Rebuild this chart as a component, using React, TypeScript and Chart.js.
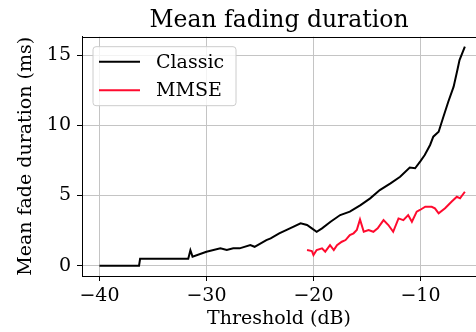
import React, { useEffect, useRef } from "react";
import { Chart, registerables } from "chart.js";

Chart.register(...registerables);

const titleText = "Mean fading duration";
const xLabel = "Threshold (dB)";
const yLabel = "Mean fade duration (ms)";
const seriesLabels = ["Classic", "MMSE"];
const seriesColors = ["#000000", "#ff0a2e"];

const xTickValues = [-40, -30, -20, -10];
const yTickValues = [0, 5, 10, 15];

const classicX = [-40, -36.3, -36.2, -31.7, -31.5, -31.3, -30.0, -28.7, -28.1, -27.5, -26.9, -25.9, -25.5, -24.4, -24.0, -23.2, -22.2, -21.2, -20.6, -20.15, -19.7, -19.2, -18.4, -17.5, -16.6, -15.6, -14.7, -13.8, -12.8, -11.9, -11.0, -10.5, -10.0, -9.6, -9.1, -8.8, -8.3, -7.9, -7.4, -6.9, -6.55, -6.35, -5.85];
const classicY = [0, 0, 0.5, 0.5, 1.1, 0.65, 1.0, 1.24, 1.12, 1.24, 1.24, 1.47, 1.35, 1.83, 1.95, 2.3, 2.66, 3.02, 2.9, 2.66, 2.42, 2.66, 3.13, 3.61, 3.85, 4.32, 4.8, 5.39, 5.87, 6.34, 7.0, 6.94, 7.45, 7.88, 8.6, 9.19, 9.54, 10.5, 11.68, 12.75, 13.94, 14.65, 15.6];

const mmseX = [-20.6, -20.15, -20.0, -19.7, -19.2, -18.9, -18.45, -18.1, -17.8, -17.35, -17.0, -16.6, -16.25, -15.95, -15.65, -15.3, -14.85, -14.4, -14.0, -13.45, -13.0, -12.55, -12.05, -11.6, -11.15, -10.8, -10.35, -10.05, -9.55, -8.95, -8.65, -8.3, -7.7, -7.1, -6.6, -6.3, -5.85];
const mmseY = [1.12, 1.05, 0.76, 1.12, 1.24, 1.0, 1.47, 1.12, 1.47, 1.71, 1.83, 2.19, 2.31, 2.54, 3.3, 2.42, 2.54, 2.42, 2.66, 3.25, 2.9, 2.42, 3.37, 3.25, 3.61, 3.13, 3.85, 3.97, 4.2, 4.2, 4.09, 3.73, 4.09, 4.56, 4.91, 4.8, 5.27];

const FONT = "'DejaVu Serif', serif";

const toPoints = (xs: number[], ys: number[]) => xs.map((x, i) => ({ x, y: ys[i] }));
const fmt = (v: number) => (v < 0 ? "\u2212" + Math.abs(v) : String(v));

const framePlugin = {
  id: "frameAndLegend",
  afterDraw(chart: any) {
    const { ctx, chartArea } = chart;
    ctx.save();
    // top spine
    ctx.strokeStyle = "#000";
    ctx.lineWidth = 1;
    ctx.beginPath();
    ctx.moveTo(chartArea.left, Math.round(chartArea.top) + 0.5);
    ctx.lineTo(chartArea.right, Math.round(chartArea.top) + 0.5);
    ctx.stroke();

    // legend
    const bx = chartArea.left + 11;
    const by = chartArea.top + 10;
    const bw = 143;
    const bh = 59;
    const r = 3;
    ctx.beginPath();
    ctx.moveTo(bx + r, by);
    ctx.lineTo(bx + bw - r, by);
    ctx.quadraticCurveTo(bx + bw, by, bx + bw, by + r);
    ctx.lineTo(bx + bw, by + bh - r);
    ctx.quadraticCurveTo(bx + bw, by + bh, bx + bw - r, by + bh);
    ctx.lineTo(bx + r, by + bh);
    ctx.quadraticCurveTo(bx, by + bh, bx, by + bh - r);
    ctx.lineTo(bx, by + r);
    ctx.quadraticCurveTo(bx, by, bx + r, by);
    ctx.closePath();
    ctx.fillStyle = "rgba(255,255,255,0.8)";
    ctx.fill();
    ctx.strokeStyle = "#cccccc";
    ctx.stroke();

    ctx.font = `19px ${FONT}`;
    ctx.textBaseline = "middle";
    ctx.textAlign = "left";
    chart.data.datasets.forEach((ds: any, i: number) => {
      const y = by + 15 + i * 28.5;
      ctx.strokeStyle = ds.borderColor;
      ctx.lineWidth = 2;
      ctx.beginPath();
      ctx.moveTo(bx + 6, y);
      ctx.lineTo(bx + 47, y);
      ctx.stroke();
      ctx.fillStyle = "#000";
      ctx.fillText(ds.label, bx + 63, y + 1);
    });
    ctx.restore();
  },
};

export default function App() {
  const ref = useRef<HTMLCanvasElement>(null);

  useEffect(() => {
    if (!ref.current) return;
    const chart = new Chart(ref.current, {
      type: "line",
      data: {
        datasets: [
          {
            label: seriesLabels[0],
            data: toPoints(classicX, classicY),
            borderColor: seriesColors[0],
            borderWidth: 2,
            pointRadius: 0,
            tension: 0,
          },
          {
            label: seriesLabels[1],
            data: toPoints(mmseX, mmseY),
            borderColor: seriesColors[1],
            borderWidth: 2,
            pointRadius: 0,
            tension: 0,
          },
        ],
      },
      options: {
        animation: false,
        responsive: false,
        devicePixelRatio: 1,
        layout: { padding: 0 },
        plugins: {
          legend: { display: false },
          tooltip: { enabled: false },
          title: {
            display: true,
            text: titleText,
            fullSize: false,
            color: "#000",
            font: { family: FONT, size: 23.5, weight: "normal" },
            padding: { top: 6.9, bottom: 1.6 },
          },
        },
        scales: {
          x: {
            type: "linear",
            min: -41.63,
            max: -4.81,
            afterFit: (s: any) => {
              s.height = 56;
            },
            afterBuildTicks: (s: any) => {
              s.ticks = xTickValues.map((v) => ({ value: v }));
            },
            ticks: {
              color: "#000",
              font: { family: FONT, size: 19 },
              padding: 4,
              maxRotation: 0,
              autoSkip: false,
              callback: (v: any) => fmt(Number(v)),
            },
            grid: {
              color: "#c4c4c4",
              lineWidth: 1,
              tickColor: "#000",
              tickLength: 5,
              drawTicks: true,
            },
            border: { display: true, color: "#000", width: 1 },
            title: {
              display: true,
              text: xLabel,
              color: "#000",
              font: { family: FONT, size: 19 },
              padding: { top: 0, bottom: 2 },
            },
          },
          y: {
            type: "linear",
            min: -0.73,
            max: 16.31,
            afterFit: (s: any) => {
              s.width = 82;
            },
            afterBuildTicks: (s: any) => {
              s.ticks = yTickValues.map((v) => ({ value: v }));
            },
            ticks: {
              color: "#000",
              font: { family: FONT, size: 19 },
              padding: 6,
              autoSkip: false,
              callback: (v: any) => fmt(Number(v)),
            },
            grid: {
              color: "#c4c4c4",
              lineWidth: 1,
              tickColor: "#000",
              tickLength: 5,
              drawTicks: true,
            },
            border: { display: true, color: "#000", width: 1 },
            title: {
              display: true,
              text: yLabel,
              color: "#000",
              font: { family: FONT, size: 19 },
              padding: { top: 15, bottom: 0 },
            },
          },
        },
      },
      plugins: [framePlugin],
    });
    return () => chart.destroy();
  }, []);

  return (
    <div style={{ position: "absolute", left: 0, top: 0, width: 476, height: 332, background: "#fff" }}>
      <canvas ref={ref} width={476} height={332} style={{ display: "block" }} />
    </div>
  );
}
